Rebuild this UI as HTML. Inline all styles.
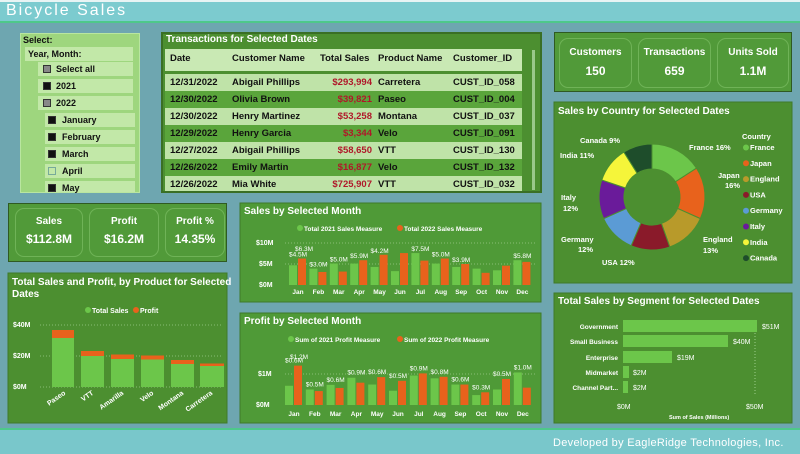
<!DOCTYPE html>
<html><head><meta charset="utf-8"><style>
*{margin:0;padding:0;box-sizing:border-box}
body{width:800px;height:454px;overflow:hidden;background:#6ea6b0;font-family:"Liberation Sans",sans-serif;position:relative}
.a{position:absolute}
.pn{position:absolute;background:#519a39;border:1px solid #3f7a2a}
.t{position:absolute;color:#fff;font-weight:bold;font-size:10px;white-space:nowrap}
svg text{font-family:"Liberation Sans",sans-serif}
.row{position:absolute;left:165px;width:357px;height:17px;font-size:9.5px;color:#111;font-weight:bold}
.row span{position:absolute;top:3px}
.sl{position:absolute;font-size:9px;color:#111;font-weight:bold;background:#c2e8a8;height:14px;padding:2px 0 0 0}
.cb{position:absolute;width:8px;height:8px;background:#111;border:1px solid #333}
.kb{position:absolute;border:1px solid #6fb357;border-radius:9px;text-align:center;color:#fff;font-weight:bold}
</style></head><body>
<div class="a" style="left:0;top:0;width:800px;height:21px;background:#7ccbcf;border-top:2px solid #e8f4f4"></div>
<div class="a" style="left:0;top:21px;width:800px;height:2px;background:#4ec88a"></div>
<div class="t" style="left:6px;top:2px;font-size:16px;font-weight:normal;letter-spacing:2px">Bicycle Sales</div>
<div class="a" style="left:0;top:428px;width:800px;height:2px;background:#4ec88a"></div>
<div class="a" style="left:0;top:430px;width:800px;height:24px;background:#79c7cb"></div>
<div class="t" style="left:553px;top:437px;font-size:11px;font-weight:normal;letter-spacing:0.3px">Developed by EagleRidge Technologies, Inc.</div>

<!-- slicer -->
<div class="a" style="left:20px;top:33px;width:120px;height:160px;background:#9ed67e;border:1px solid #b9e6a0"></div>
<div class="sl" style="left:23px;top:33px;background:none">Select:</div>
<div class="sl" style="left:25px;top:47px;width:108px;padding-left:3px">Year, Month:</div>
<div class="sl" style="left:38px;top:62px;width:95px;padding-left:18px">Select all</div><div class="cb" style="left:43px;top:65px;background:#888"></div>
<div class="sl" style="left:38px;top:79px;width:95px;padding-left:18px">2021</div><div class="cb" style="left:43px;top:82px"></div>
<div class="sl" style="left:38px;top:96px;width:95px;padding-left:18px">2022</div><div class="cb" style="left:43px;top:99px;background:#888"></div>
<div class="sl" style="left:45px;top:113px;width:90px;padding-left:17px">January</div><div class="cb" style="left:48px;top:116px"></div>
<div class="sl" style="left:45px;top:130px;width:90px;padding-left:17px">February</div><div class="cb" style="left:48px;top:133px"></div>
<div class="sl" style="left:45px;top:147px;width:90px;padding-left:17px">March</div><div class="cb" style="left:48px;top:150px"></div>
<div class="sl" style="left:45px;top:164px;width:90px;padding-left:17px">April</div><div class="cb" style="left:48px;top:167px;background:none;border-color:#7a9"></div>
<div class="sl" style="left:45px;top:181px;width:90px;height:11px;padding-left:17px">May</div><div class="cb" style="left:48px;top:184px"></div>

<!-- transactions -->
<div class="pn" style="left:161px;top:32px;width:381px;height:161px;background:#4c8f30;border:2px solid #3a6f25"></div>
<div class="t" style="left:166px;top:34px">Transactions for Selected Dates</div>
<div class="a" style="left:165px;top:49px;width:357px;height:22px;background:#c9e9b4"></div>
<div class="row" style="top:50px"><span style="left:5px">Date</span><span style="left:67px">Customer Name</span><span style="left:155px">Total Sales</span><span style="left:213px">Product Name</span><span style="left:288px">Customer_ID</span></div>
<div class="a" style="left:532px;top:50px;width:3px;height:140px;background:#9ac98a"></div>
<div class="row" style="top:74px;background:#bfe3a8"><span style="left:5px">12/31/2022</span><span style="left:67px">Abigail Phillips</span><span style="left:155px;width:52px;text-align:right;color:#b0182a">$293,994</span><span style="left:213px">Carretera</span><span style="left:288px">CUST_ID_058</span></div>
<div class="row" style="top:91px;background:#5aa53b"><span style="left:5px">12/30/2022</span><span style="left:67px">Olivia Brown</span><span style="left:155px;width:52px;text-align:right;color:#b0182a">$39,821</span><span style="left:213px">Paseo</span><span style="left:288px">CUST_ID_004</span></div>
<div class="row" style="top:108px;background:#bfe3a8"><span style="left:5px">12/30/2022</span><span style="left:67px">Henry Martinez</span><span style="left:155px;width:52px;text-align:right;color:#b0182a">$53,258</span><span style="left:213px">Montana</span><span style="left:288px">CUST_ID_037</span></div>
<div class="row" style="top:125px;background:#5aa53b"><span style="left:5px">12/29/2022</span><span style="left:67px">Henry Garcia</span><span style="left:155px;width:52px;text-align:right;color:#b0182a">$3,344</span><span style="left:213px">Velo</span><span style="left:288px">CUST_ID_091</span></div>
<div class="row" style="top:142px;background:#bfe3a8"><span style="left:5px">12/27/2022</span><span style="left:67px">Abigail Phillips</span><span style="left:155px;width:52px;text-align:right;color:#b0182a">$58,650</span><span style="left:213px">VTT</span><span style="left:288px">CUST_ID_130</span></div>
<div class="row" style="top:159px;background:#5aa53b"><span style="left:5px">12/26/2022</span><span style="left:67px">Emily Martin</span><span style="left:155px;width:52px;text-align:right;color:#b0182a">$16,877</span><span style="left:213px">Velo</span><span style="left:288px">CUST_ID_132</span></div>
<div class="row" style="top:176px;height:15px;background:#bfe3a8"><span style="left:5px">12/26/2022</span><span style="left:67px">Mia White</span><span style="left:155px;width:52px;text-align:right;color:#b0182a">$725,907</span><span style="left:213px">VTT</span><span style="left:288px">CUST_ID_032</span></div>

<!-- KPI left -->
<div class="pn" style="left:8px;top:203px;width:219px;height:59px;border:1px solid #2f5a22"></div>
<div class="kb" style="left:15px;top:208px;width:68px;height:49px"><div style="font-size:10px;margin-top:7px">Sales</div><div style="font-size:12px;margin-top:5px">$112.8M</div></div>
<div class="kb" style="left:89px;top:208px;width:70px;height:49px"><div style="font-size:10px;margin-top:7px">Profit</div><div style="font-size:12px;margin-top:5px">$16.2M</div></div>
<div class="kb" style="left:165px;top:208px;width:60px;height:49px"><div style="font-size:10px;margin-top:7px">Profit %</div><div style="font-size:12px;margin-top:5px">14.35%</div></div>

<!-- KPI right -->
<div class="pn" style="left:554px;top:32px;width:238px;height:60px;border:1px solid #2f5a22"></div>
<div class="kb" style="left:559px;top:38px;width:73px;height:50px"><div style="font-size:10px;margin-top:8px">Customers</div><div style="font-size:12px;margin-top:6px">150</div></div>
<div class="kb" style="left:638px;top:38px;width:73px;height:50px"><div style="font-size:10px;margin-top:8px">Transactions</div><div style="font-size:12px;margin-top:6px">659</div></div>
<div class="kb" style="left:717px;top:38px;width:72px;height:50px"><div style="font-size:10px;margin-top:8px">Units Sold</div><div style="font-size:12px;margin-top:6px">1.1M</div></div>

<svg class="a" style="left:0;top:0" width="800" height="454">
<rect x="8" y="273" width="219" height="150" fill="#4c8f30" stroke="#3f7a2a"/>
<text x="12" y="285" fill="#fff" font-size="10" font-weight="bold">Total Sales and Profit, by Product for Selected</text>
<text x="12" y="297" fill="#fff" font-size="10" font-weight="bold">Dates</text>
<circle cx="88" cy="310" r="3" fill="#6cc64a"/><text x="92" y="313" fill="#fff" font-size="7" font-weight="bold">Total Sales</text>
<circle cx="136" cy="310" r="3" fill="#e8621c"/><text x="140" y="313" fill="#fff" font-size="7" font-weight="bold">Profit</text>
<g stroke="#9ccc8a" stroke-dasharray="1,2" stroke-width="0.7"><line x1="40" y1="325" x2="222" y2="325"/><line x1="40" y1="356" x2="222" y2="356"/><line x1="40" y1="387" x2="222" y2="387"/></g>
<g fill="#fff" font-size="7" font-weight="bold"><text x="13" y="327">$40M</text><text x="13" y="358">$20M</text><text x="13" y="389">$0M</text></g>
<g fill="#6cc64a"><rect x="52" y="338" width="22" height="49"/><rect x="81" y="356" width="23" height="31"/><rect x="111" y="359" width="23" height="28"/><rect x="141" y="359.5" width="23" height="27.5"/><rect x="171" y="364" width="23" height="23"/><rect x="200" y="366" width="24" height="21"/></g>
<g fill="#e8621c"><rect x="52" y="330" width="22" height="8"/><rect x="81" y="351" width="23" height="5"/><rect x="111" y="354.5" width="23" height="4.5"/><rect x="141" y="355.5" width="23" height="4"/><rect x="171" y="360" width="23" height="4"/><rect x="200" y="363.5" width="24" height="2.5"/></g>
<g fill="#fff" font-size="7" font-weight="bold">
<text transform="translate(66,394) rotate(-35)" text-anchor="end">Paseo</text>
<text transform="translate(94,394) rotate(-35)" text-anchor="end">VTT</text>
<text transform="translate(124,394) rotate(-35)" text-anchor="end">Amarilla</text>
<text transform="translate(154,394) rotate(-35)" text-anchor="end">Velo</text>
<text transform="translate(184,394) rotate(-35)" text-anchor="end">Montana</text>
<text transform="translate(213,394) rotate(-35)" text-anchor="end">Carretera</text></g>

<rect x="240" y="203" width="301" height="99" fill="#4f9a37" stroke="#3f7a2a"/>
<text x="244" y="214" fill="#fff" font-size="10" font-weight="bold">Sales by Selected Month</text>
<circle cx="300" cy="228" r="3" fill="#6cc64a"/><text x="304" y="231" fill="#fff" font-size="6.5" font-weight="bold">Total 2021 Sales Measure</text>
<circle cx="400" cy="228" r="3" fill="#e8621c"/><text x="404" y="231" fill="#fff" font-size="6.5" font-weight="bold">Total 2022 Sales Measure</text>
<g stroke="#9ccc8a" stroke-dasharray="1,2" stroke-width="0.7"><line x1="285" y1="243" x2="535" y2="243"/><line x1="285" y1="264" x2="535" y2="264"/></g>
<g fill="#fff" font-size="7" font-weight="bold"><text x="256" y="245">$10M</text><text x="259" y="266">$5M</text><text x="259" y="287">$0M</text></g>
<g id="sm"></g>
<rect x="240" y="313" width="301" height="110" fill="#4f9a37" stroke="#3f7a2a"/>
<text x="244" y="324" fill="#fff" font-size="10" font-weight="bold">Profit by Selected Month</text>
<circle cx="291" cy="339" r="3" fill="#6cc64a"/><text x="295" y="342" fill="#fff" font-size="6.5" font-weight="bold">Sum of 2021 Profit Measure</text>
<circle cx="400" cy="339" r="3" fill="#e8621c"/><text x="404" y="342" fill="#fff" font-size="6.5" font-weight="bold">Sum of 2022 Profit Measure</text>
<g stroke="#9ccc8a" stroke-dasharray="1,2" stroke-width="0.7"><line x1="285" y1="374" x2="535" y2="374"/></g>
<g fill="#fff" font-size="7" font-weight="bold"><text x="258" y="376">$1M</text><text x="256" y="407">$0M</text></g>
<g id="pm"></g>

<rect x="554" y="102" width="238" height="181" fill="#4c8f30" stroke="#3f7a2a"/>
<text x="558" y="114" fill="#fff" font-size="10" font-weight="bold">Sales by Country for Selected Dates</text>
<g id="donut"></g>
<g fill="#fff" font-size="7.5" font-weight="bold">
<text x="689" y="150">France 16%</text><text x="718" y="178">Japan</text><text x="725" y="188">16%</text>
<text x="703" y="242">England</text><text x="703" y="253">13%</text><text x="602" y="265">USA 12%</text>
<text x="561" y="242">Germany</text><text x="578" y="252">12%</text><text x="561" y="200">Italy</text><text x="563" y="211">12%</text>
<text x="560" y="158">India 11%</text><text x="580" y="143">Canada 9%</text>
<text x="742" y="139">Country</text></g>
<g id="leg"></g>

<rect x="554" y="293" width="238" height="130" fill="#4c8f30" stroke="#3f7a2a"/>
<text x="558" y="304" fill="#fff" font-size="10" font-weight="bold">Total Sales by Segment for Selected Dates</text>
<line x1="755" y1="330" x2="755" y2="395" stroke="#9ccc8a" stroke-dasharray="1,2"/>
<g fill="#6cc64a"><rect x="623" y="320" width="134" height="12"/><rect x="623" y="335" width="105" height="12"/><rect x="623" y="351" width="49" height="12"/><rect x="623" y="366" width="6" height="12"/><rect x="623" y="381" width="5" height="12"/></g>
<g fill="#fff" font-size="6.5" font-weight="bold" text-anchor="end"><text x="618" y="329">Government</text><text x="618" y="344">Small Business</text><text x="618" y="360">Enterprise</text><text x="618" y="375">Midmarket</text><text x="618" y="390">Channel Part...</text></g>
<g fill="#fff" font-size="7"><text x="762" y="329">$51M</text><text x="733" y="344">$40M</text><text x="677" y="360">$19M</text><text x="633" y="375">$2M</text><text x="633" y="390">$2M</text>
<text x="617" y="409">$0M</text><text x="746" y="409">$50M</text><text x="669" y="419" font-size="5.5" font-weight="bold">Sum of Sales (Millions)</text></g>
</svg>
<script>
var ns="http://www.w3.org/2000/svg",M=["Jan","Feb","Mar","Apr","May","Jun","Jul","Aug","Sep","Oct","Nov","Dec"];
function el(p,t,a,tx){var e=document.createElementNS(ns,t);for(var k in a)e.setAttribute(k,a[k]);if(tx)e.textContent=tx;p.appendChild(e);return e;}
var sm=document.getElementById("sm"),pm=document.getElementById("pm");
var s1=[4.7,3.9,5.1,5.1,4.3,3.3,7.6,5.1,4.3,3.9,3.5,5.9],s2=[6.3,3.1,3.2,5.9,7.2,7.6,5.8,6.3,5,2.9,4.6,5.5];
var sl={0:["$4.5M",1],1:["$3.0M",1],2:["$5.0M",1],3:["$5.9M",1],4:["$4.2M",1],6:["$7.5M",1],7:["$5.0M",1],8:["$3.9M",1],11:["$5.8M",1]};
for(var i=0;i<12;i++){var cx=298+i*20.4;
el(sm,"rect",{x:cx-9,y:285-s1[i]*4.2,width:8,height:s1[i]*4.2,fill:"#6cc64a"});
el(sm,"rect",{x:cx,y:285-s2[i]*4.2,width:8,height:s2[i]*4.2,fill:"#e8621c"});
el(sm,"text",{x:cx,y:294,fill:"#fff","font-size":"6.5","font-weight":"bold","text-anchor":"middle"},M[i]);
if(sl[i])el(sm,"text",{x:cx,y:285-Math.max(s1[i],s2[i])*4.2-2,fill:"#fff","font-size":"6.5","text-anchor":"middle"},sl[i][0]);}
el(sm,"text",{x:295,y:251,fill:"#fff","font-size":"6.5"},"$6.3M");
var p1=[.62,.5,.65,.88,.66,.46,.95,.86,.66,.32,.5,1.05],p2=[1.27,.45,.55,.72,.9,.78,1.02,.91,.66,.41,.84,.56];
var pl1=["$0.6M","$0.5M","$0.6M","$0.9M","$0.6M","$0.5M","$0.9M","$0.8M","$0.6M","$0.3M","$0.5M","$1.0M"];
for(var i=0;i<12;i++){var cx=294+i*20.8;
el(pm,"rect",{x:cx-9,y:405-p1[i]*31,width:8,height:p1[i]*31,fill:"#6cc64a"});
el(pm,"rect",{x:cx,y:405-p2[i]*31,width:8,height:p2[i]*31,fill:"#e8621c"});
el(pm,"text",{x:cx,y:416,fill:"#fff","font-size":"6.5","font-weight":"bold","text-anchor":"middle"},M[i]);
el(pm,"text",{x:cx,y:405-Math.max(p1[i],p2[i])*31-3,fill:"#fff","font-size":"6.5","text-anchor":"middle"},pl1[i]);}
el(pm,"text",{x:299,y:359,fill:"#fff","font-size":"6.5","text-anchor":"middle"},"$1.2M");
var d=document.getElementById("donut"),cx=652,cy=197,R=53,r=28,a=-Math.PI/2;
var P=[16,16,13,12,12,12,11,9],C=["#6cc64a","#e8621c","#b89a2a","#8a1a2a","#5b9bd5","#6a1b9a","#f5f53a","#1e4d2b"];
for(var i=0;i<8;i++){var b=a+P[i]/101*2*Math.PI,lg=(b-a)>Math.PI?1:0;
var pth="M"+(cx+R*Math.cos(a))+","+(cy+R*Math.sin(a))+"A"+R+","+R+" 0 "+lg+" 1 "+(cx+R*Math.cos(b))+","+(cy+R*Math.sin(b))+"L"+(cx+r*Math.cos(b))+","+(cy+r*Math.sin(b))+"A"+r+","+r+" 0 "+lg+" 0 "+(cx+r*Math.cos(a))+","+(cy+r*Math.sin(a))+"Z";
el(d,"path",{d:pth,fill:C[i],stroke:"#4c8f30","stroke-width":"1"});a=b;}
var L=["France","Japan","England","USA","Germany","Italy","India","Canada"],lg=document.getElementById("leg");
for(var i=0;i<8;i++){var y=150+i*15.8;el(lg,"circle",{cx:746,cy:y-2.5,r:3,fill:C[i]});el(lg,"text",{x:750,y:y,fill:"#fff","font-size":"7.5","font-weight":"bold"},L[i]);}
</script>
</body></html>
